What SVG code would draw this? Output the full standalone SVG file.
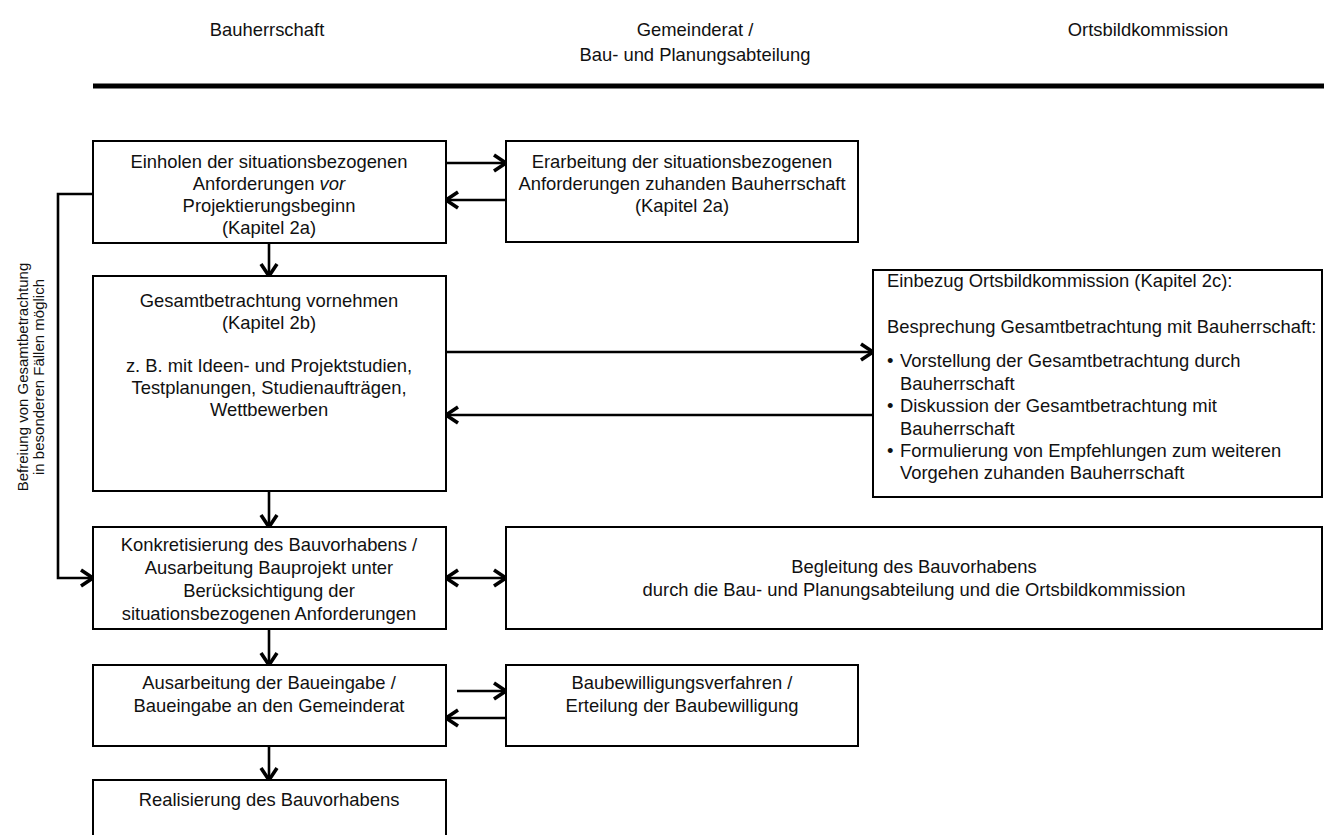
<svg xmlns="http://www.w3.org/2000/svg" width="1324" height="835" viewBox="0 0 1324 835">
<style>
.box{fill:#fff;stroke:#000;stroke-width:2}
.t{font-family:"Liberation Sans",Arial,sans-serif;font-size:18.4px;fill:#111}
.c{text-anchor:middle}
.h{font-family:"Liberation Sans",Arial,sans-serif;font-size:18.4px;fill:#111;text-anchor:middle}
.side{font-family:"Liberation Sans",Arial,sans-serif;font-size:15px;fill:#111;text-anchor:middle}
.con{fill:none;stroke:#000;stroke-width:2.6}
</style>
<defs>
<marker id="ah" markerUnits="userSpaceOnUse" markerWidth="20" markerHeight="22" refX="15" refY="11" orient="auto-start-reverse" overflow="visible">
<path d="M3,3 L15,11 L3,19" fill="none" stroke="#000" stroke-width="3.6" stroke-linejoin="miter"/>
</marker>
</defs>
<rect width="1324" height="835" fill="#fff"/>
<g id="headers">
<text class="h" x="267" y="36">Bauherrschaft</text>
<text class="h" x="695" y="36">Gemeinderat /</text>
<text class="h" x="695" y="61">Bau- und Planungsabteilung</text>
<text class="h" x="1148" y="36">Ortsbildkommission</text>
<line x1="93" y1="86" x2="1324" y2="86" stroke="#000" stroke-width="5"/>
</g>
<g id="side-note">
<text class="side" transform="translate(28,377) rotate(-90)">Befreiung von Gesamtbetrachtung</text>
<text class="side" transform="translate(44,377) rotate(-90)">in besonderen Fällen möglich</text>
</g>
<g id="connectors">
<line class="con" x1="446" y1="163" x2="506" y2="163" marker-end="url(#ah)"/>
<line class="con" x1="506" y1="200" x2="446" y2="200" marker-end="url(#ah)"/>
<line class="con" x1="269" y1="243" x2="269" y2="276" marker-end="url(#ah)"/>
<line class="con" x1="446" y1="352" x2="873" y2="352" marker-end="url(#ah)"/>
<line class="con" x1="873" y1="415" x2="446" y2="415" marker-end="url(#ah)"/>
<line class="con" x1="269" y1="491" x2="269" y2="527" marker-end="url(#ah)"/>
<line class="con" x1="446" y1="578" x2="506" y2="578" marker-start="url(#ah)" marker-end="url(#ah)"/>
<line class="con" x1="269" y1="629" x2="269" y2="665" marker-end="url(#ah)"/>
<line class="con" x1="457" y1="691" x2="506" y2="691" marker-end="url(#ah)"/>
<line class="con" x1="506" y1="718" x2="446" y2="718" marker-end="url(#ah)"/>
<line class="con" x1="269" y1="746" x2="269" y2="780" marker-end="url(#ah)"/>
<polyline class="con" points="93,194 58,194 58,578 93,578" marker-end="url(#ah)"/>
</g>
<g id="n1">
<rect class="box" x="93" y="141" width="353" height="102"/>
<text class="t c" x="269" y="168">Einholen der situationsbezogenen</text>
<text class="t c" x="269" y="190">Anforderungen <tspan font-style="italic">vor</tspan></text>
<text class="t c" x="269" y="212">Projektierungsbeginn</text>
<text class="t c" x="269" y="234">(Kapitel 2a)</text>
</g>
<g id="n2">
<rect class="box" x="506" y="141" width="352" height="101"/>
<text class="t c" x="682" y="168">Erarbeitung der situationsbezogenen</text>
<text class="t c" x="682" y="190">Anforderungen zuhanden Bauherrschaft</text>
<text class="t c" x="682" y="212">(Kapitel 2a)</text>
</g>
<g id="n3">
<rect class="box" x="93" y="276" width="353" height="215"/>
<text class="t c" x="269" y="307">Gesamtbetrachtung vornehmen</text>
<text class="t c" x="269" y="329">(Kapitel 2b)</text>
<text class="t c" x="269" y="372">z. B. mit Ideen- und Projektstudien,</text>
<text class="t c" x="269" y="394">Testplanungen, Studienaufträgen,</text>
<text class="t c" x="269" y="416">Wettbewerben</text>
</g>
<g id="n4">
<rect class="box" x="873" y="270" width="449" height="227"/>
<text class="t" x="887" y="287">Einbezug Ortsbildkommission (Kapitel 2c):</text>
<text class="t" x="887" y="333">Besprechung Gesamtbetrachtung mit Bauherrschaft:</text>
<text class="t" x="887" y="367">•</text>
<text class="t" x="900" y="367">Vorstellung der Gesamtbetrachtung durch</text>
<text class="t" x="900" y="390">Bauherrschaft</text>
<text class="t" x="887" y="412">•</text>
<text class="t" x="900" y="412">Diskussion der Gesamtbetrachtung mit</text>
<text class="t" x="900" y="435">Bauherrschaft</text>
<text class="t" x="887" y="457">•</text>
<text class="t" x="900" y="457">Formulierung von Empfehlungen zum weiteren</text>
<text class="t" x="900" y="479">Vorgehen zuhanden Bauherrschaft</text>
</g>
<g id="n5">
<rect class="box" x="93" y="527" width="353" height="102"/>
<text class="t c" x="269" y="551">Konkretisierung des Bauvorhabens /</text>
<text class="t c" x="269" y="574">Ausarbeitung Bauprojekt unter</text>
<text class="t c" x="269" y="597">Berücksichtigung der</text>
<text class="t c" x="269" y="620">situationsbezogenen Anforderungen</text>
</g>
<g id="n6">
<rect class="box" x="506" y="527" width="816" height="102"/>
<text class="t c" x="914" y="573">Begleitung des Bauvorhabens</text>
<text class="t c" x="914" y="596">durch die Bau- und Planungsabteilung und die Ortsbildkommission</text>
</g>
<g id="n7">
<rect class="box" x="93" y="665" width="353" height="81"/>
<text class="t c" x="269" y="689">Ausarbeitung der Baueingabe /</text>
<text class="t c" x="269" y="712">Baueingabe an den Gemeinderat</text>
</g>
<g id="n8">
<rect class="box" x="506" y="665" width="352" height="81"/>
<text class="t c" x="682" y="689">Baubewilligungsverfahren /</text>
<text class="t c" x="682" y="712">Erteilung der Baubewilligung</text>
</g>
<g id="n9">
<rect class="box" x="93" y="780" width="353" height="70"/>
<text class="t c" x="269" y="806">Realisierung des Bauvorhabens</text>
</g>
</svg>
